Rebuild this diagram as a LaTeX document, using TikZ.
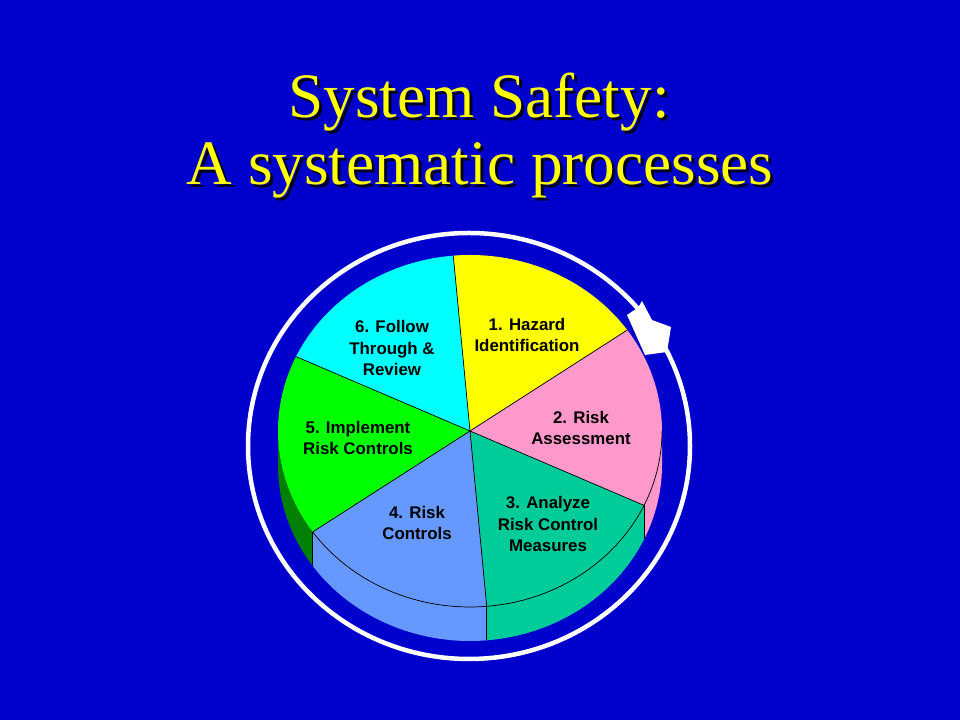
\documentclass[tikz,border=0pt]{standalone}
\usepackage{fontspec}
\setmainfont{Liberation Serif}
\newfontfamily\labelfont{Liberation Sans}

\definecolor{bgblue}{RGB}{0,0,204}
\definecolor{slyellow}{RGB}{255,255,0}
\definecolor{slpink}{RGB}{255,153,204}
\definecolor{slteal}{RGB}{0,204,153}
\definecolor{slblue}{RGB}{102,153,255}
\definecolor{slgreen}{RGB}{0,255,0}
\definecolor{slgreendark}{RGB}{0,128,0}
\definecolor{slcyan}{RGB}{0,255,255}

\tikzset{
  titletext/.style={font=\fontsize{45}{48}\selectfont, anchor=base},
  slicelabel/.style={font=\labelfont\bfseries\fontsize{12}{15}\selectfont, align=center, text=black},
  pieline/.style={draw=black, line width=0.5pt}
}

\begin{document}
\begin{tikzpicture}[x=0.025cm, y=0.025cm]

%Background
\fill[bgblue] (0,0) rectangle (960,720);

%Title with shadow
\node[titletext, text=black!85!bgblue] (shadow1) at (482,599) {System Safety:};
\node[titletext, text=black!85!bgblue] (shadow2) at (483,532) {A systematic processes};
\node[titletext, text=slyellow] (title1) at (479,602) {System Safety:};
\node[titletext, text=slyellow] (title2) at (480,535) {A systematic processes};

\coordinate (pc) at (470,289);

%Pie sides
\foreach \a/\b/\col in {0/-25/slpink, -25/-85/slteal, -85/-145/slblue, -145/-180/slgreendark}
  \fill[\col] (pc) ++(\a:192 and 176) arc[start angle=\a, end angle=\b, x radius=192, y radius=176]
    -- ++(0,-34) arc[start angle=\b, end angle=\a, x radius=192, y radius=176] -- cycle;

%Pie top
\foreach \a/\b/\col in {95/35/slyellow, 35/-25/slpink, -25/-85/slteal, -85/-145/slblue, -145/-205/slgreen, 155/95/slcyan}
  \fill[\col] (pc) -- ++(\a:192 and 176) arc[start angle=\a, end angle=\b, x radius=192, y radius=176] -- cycle;

%Edges
\foreach \a in {95,35,-25,-85,-145,155}
  \draw[pieline] (pc) -- ++(\a:192 and 176);
\draw[pieline] (pc) ++(0:192 and 176) arc[start angle=0, end angle=-145, x radius=192, y radius=176];
\foreach \a in {-25,-85,-145}
  \draw[pieline] (pc) ++(\a:192 and 176) -- ++(0,-34);

%Labels
\node[slicelabel] (hazard) at (527,385) {1. Hazard\\Identification};
\node[slicelabel] (assess) at (581,292) {2. Risk\\Assessment};
\node[slicelabel] (analyze) at (548,196) {3. Analyze\\Risk Control\\Measures};
\node[slicelabel] (controls) at (417,197) {4. Risk\\Controls};
\node[slicelabel] (implement) at (358,282) {5. Implement\\Risk Controls};
\node[slicelabel] (follow) at (392,372) {6. Follow\\Through \&\\Review};

%Ring and arrow
\draw[white, line width=3.2pt] (469,274) ellipse [x radius=221, y radius=213];
\fill[white] (636,411) -- (627,405) -- (645,365) -- (667,368) -- (671,393) -- (652,400) -- (642,419) -- (639,414) -- cycle;

\end{tikzpicture}
\end{document}
